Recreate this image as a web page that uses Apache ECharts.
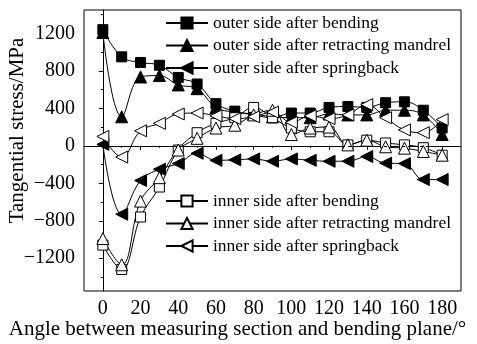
<!DOCTYPE html>
<html>
<head>
<meta charset="utf-8">
<script src="https://cdn.jsdelivr.net/npm/echarts@6/dist/echarts.min.js"></script>
<style>
  html, body { margin: 0; padding: 0; background: #fff; }
  #chart { width: 477px; height: 344px; }
</style>
</head>
<body>
<div id="chart"></div>
<script>
const angles = [0, 10, 20, 30, 40, 50, 60, 70, 80, 90, 100, 110, 120, 130, 140, 150, 160, 170, 180]

const outerBending = [1240, 950, 890, 860, 730, 660, 450, 370, 330, 300, 350, 350, 410, 420, 410, 460, 470, 380, 190]
const outerRetract = [1210, 310, 735, 750, 650, 610, 410, 360, 340, 310, 300, 300, 340, 330, 330, 380, 380, 330, 120]
const outerSpring = [15, -730, -370, -250, -190, -80, -155, -150, -140, -165, -140, -155, -165, -165, -115, -185, -190, -360, -360]
const innerBending = [-1060, -1320, -760, -440, -45, 140, 240, 300, 410, 300, 190, 150, 150, 10, 60, 30, 10, -20, -100]
const innerRetract = [-990, -1270, -590, -340, -45, 80, 190, 220, 330, 380, 120, 190, 200, 10, 60, -10, -25, -60, -100]
const innerSpring = [100, -120, 160, 240, 340, 350, 320, 290, 310, 360, 250, 320, 290, 330, 440, 300, 170, 140, 280]

const xMajor = [0, 20, 40, 60, 80, 100, 120, 140, 160, 180]
const xMinor = [10, 30, 50, 70, 90, 110, 130, 150, 170]
const yMajor = [-1200, -800, -400, 0, 400, 800, 1200]
const yMinor = [-1400, -1000, -600, -200, 200, 600, 1000, 1400]

const font = 'Liberation Serif'
const black = '#000'

const chart = echarts.init(document.getElementById('chart'))

function pairs(vals) {
  return angles.map((a, i) => [a, vals[i]])
}

function mk(name, vals, symbol, size, filled, rotate) {
  return {
    name,
    type: 'line',
    smooth: 0.4,
    data: pairs(vals),
    symbol,
    symbolSize: size,
    symbolRotate: rotate || 0,
    showAllSymbol: true,
    lineStyle: { color: black, width: 1 },
    itemStyle: { color: filled ? black : '#fff', borderColor: black, borderWidth: 1 },
    emphasis: { disabled: true },
    z: filled ? 3 : 4,
  }
}

const series = [
  mk('outer side after bending', outerBending, 'rect', 10, true),
  mk('outer side after retracting mandrel', outerRetract, 'triangle', 12, true),
  mk('outer side after springback', outerSpring, 'triangle', 12, true, 90),
  mk('inner side after bending', innerBending, 'rect', 10, false),
  mk('inner side after retracting mandrel', innerRetract, 'triangle', 12, false),
  mk('inner side after springback', innerSpring, 'triangle', 12, false, 90),
]
series[0].markLine = {
  silent: true,
  symbol: 'none',
  label: { show: false },
  lineStyle: { color: black, type: [3, 3], width: 1 },
  data: [{ yAxis: 0 }],
}

const legendBase = {
  orient: 'vertical',
  left: 165,
  padding: 0,
  itemWidth: 42,
  itemHeight: 14,
  itemGap: 4.5,
  textStyle: { fontFamily: font, fontSize: 17.5, color: black },
  selectedMode: false,
}

const numFmt = v => String(v).replace('-', '\u2212')

chart.setOption({
  animation: false,
  backgroundColor: '#fff',
  grid: {
    left: 84, right: 16, top: 10, bottom: 53,
    outerBoundsMode: 'none',
    show: true, borderColor: black, borderWidth: 1,
  },
  legend: [
    { ...legendBase, top: 14, data: series.slice(0, 3).map(s => s.name) },
    { ...legendBase, top: 192, data: series.slice(3).map(s => s.name) },
  ],
  xAxis: [
    {
      type: 'value',
      min: -10,
      max: 190,
      name: 'Angle between measuring section and bending plane/°',
      nameLocation: 'middle',
      nameGap: 28,
      nameMoveOverlap: false,
      nameTextStyle: { fontFamily: font, fontSize: 21, color: black, padding: [0, 70, 0, 0] },
      axisLine: { lineStyle: { color: black, width: 1 } },
      axisTick: { inside: false, length: 4, customValues: xMajor, lineStyle: { color: black } },
      axisLabel: { customValues: xMajor, fontFamily: font, fontSize: 20, color: black, margin: 8, formatter: numFmt },
      splitLine: { show: false },
    },
    {
      type: 'value',
      min: -10,
      max: 190,
      position: 'bottom',
      axisLine: { show: false },
      axisTick: { length: 2, customValues: xMinor, lineStyle: { color: black } },
      axisLabel: { show: false },
      splitLine: { show: false },
    },
  ],
  yAxis: [
    {
      type: 'value',
      min: -1550,
      max: 1450,
      name: 'Tangential stress/MPa',
      nameLocation: 'middle',
      nameGap: 56,
      nameMoveOverlap: false,
      nameTextStyle: { fontFamily: font, fontSize: 21, color: black, padding: [0, 0, 0, 40] },
      axisLine: { show: true, lineStyle: { color: black, width: 1 } },
      axisTick: { show: true, length: 4, customValues: yMajor, lineStyle: { color: black } },
      axisLabel: { customValues: yMajor, fontFamily: font, fontSize: 20, color: black, margin: 9, formatter: numFmt },
      splitLine: { show: false },
    },
    {
      type: 'value',
      min: -1550,
      max: 1450,
      position: 'left',
      axisLine: { show: false },
      axisTick: { show: true, length: 2, customValues: yMinor, lineStyle: { color: black } },
      axisLabel: { show: false },
      splitLine: { show: false },
    },
  ],
  series,
})
</script>
</body>
</html>
